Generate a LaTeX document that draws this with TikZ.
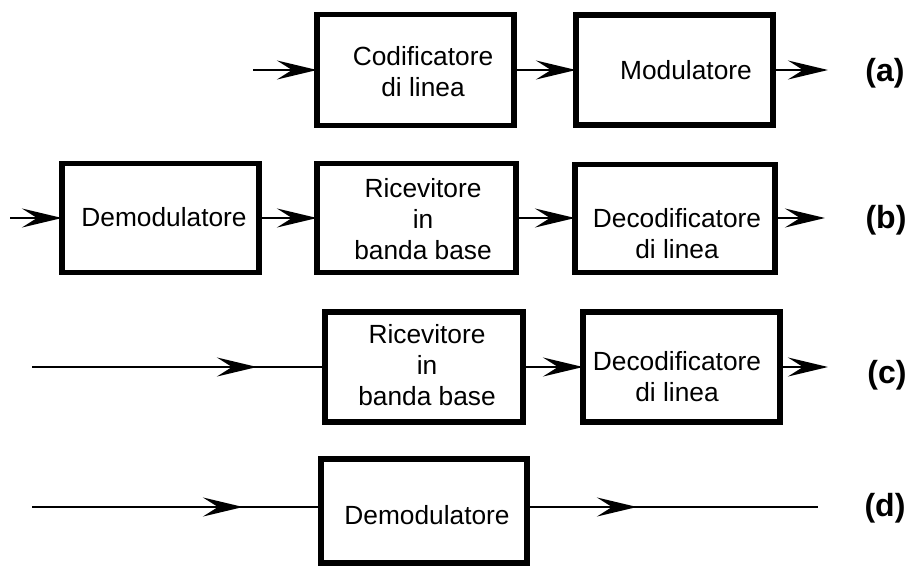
\documentclass[tikz,border=0pt]{standalone}
\usepackage{fontspec}
\setmainfont{Liberation Sans}
\usetikzlibrary{arrows.meta}
\begin{document}
\begin{tikzpicture}[x=1pt,y=-1pt,
  blk/.style={draw, line width=5.3pt, rectangle, inner sep=0pt, outer sep=0pt},
  txt/.style={align=center, font=\fontsize{26.3}{31}\selectfont, inner sep=0pt},
  lab/.style={font=\fontsize{32}{38}\selectfont\bfseries, inner sep=0pt},
  conn/.style={line width=2.7pt},
  tip/.style={conn, -{Stealth[length=40pt,width=19pt,inset=15pt]}}]
\useasboundingbox (0,0) rectangle (913,568);

% ---- (a) transmitter: line coder + modulator
\node[blk, minimum width=197pt, minimum height=111pt] (A1) at (415.5,70) {};
\node[blk, minimum width=197pt, minimum height=110pt] (A2) at (674.5,70) {};
\node[txt] (tA1) at (423,72) {Codificatore\\di linea};
\node[txt] (tA2) at (686,70) {Modulatore};
\coordinate (ain) at (253,70);
\coordinate (aout) at (828,70);
\draw[tip] (ain) -- (A1.west);
\draw[tip] (A1.east) -- (A2.west);
\draw[tip] (A2.east) -- (aout);
\node[lab] (la) at (885,73) {(a)};

% ---- (b) demodulator + baseband receiver + line decoder
\node[blk, minimum width=197pt, minimum height=109pt] (B1) at (160.5,218) {};
\node[blk, minimum width=199pt, minimum height=109pt] (B2) at (416.5,218) {};
\node[blk, minimum width=200pt, minimum height=108pt] (B3) at (675,218.5) {};
\node[txt] (tB1) at (164,217) {Demodulatore};
\node[txt] (tB2) at (423,219) {Ricevitore\\in\\banda base};
\node[txt] (tB3) at (677,234) {Decodificatore\\di linea};
\coordinate (bin) at (10,218);
\coordinate (bout) at (825,218);
\draw[tip] (bin) -- (B1.west);
\draw[tip] (B1.east) -- (B2.west);
\draw[tip] (B2.east) -- (B3.west |- B2.east);
\draw[tip] (B3.east |- B2.east) -- (bout);
\node[lab] (lb) at (886,220) {(b)};

% ---- (c) baseband receiver + line decoder
\node[blk, minimum width=198pt, minimum height=110pt] (C1) at (424,367) {};
\node[blk, minimum width=197pt, minimum height=110pt] (C2) at (681.5,367) {};
\node[txt] (tC1) at (427,365) {Ricevitore\\in\\banda base};
\node[txt] (tC2) at (677,377) {Decodificatore\\di linea};
\coordinate (cin) at (32,367);
\coordinate (cmid) at (257,367);
\coordinate (cout) at (828,367);
\draw[conn] (cin) -- (C1.west);
\draw[tip] (cin) -- (cmid);
\draw[tip] (C1.east) -- (C2.west);
\draw[tip] (C2.east) -- (cout);
\node[lab] (lc) at (887,375) {(c)};

% ---- (d) demodulator alone
\node[blk, minimum width=206pt, minimum height=104pt] (D1) at (424,511) {};
\node[txt] (tD1) at (427,515) {Demodulatore};
\coordinate (din) at (32,507);
\coordinate (dmid) at (243,507);
\coordinate (dtip) at (637,507);
\coordinate (dend) at (818,507);
\draw[conn] (din) -- (din -| D1.west);
\draw[tip] (din) -- (dmid);
\draw[conn] (dend -| D1.east) -- (dend);
\draw[tip] (dend -| D1.east) -- (dtip);
\node[lab] (ld) at (885,508) {(d)};
\end{tikzpicture}
\end{document}
